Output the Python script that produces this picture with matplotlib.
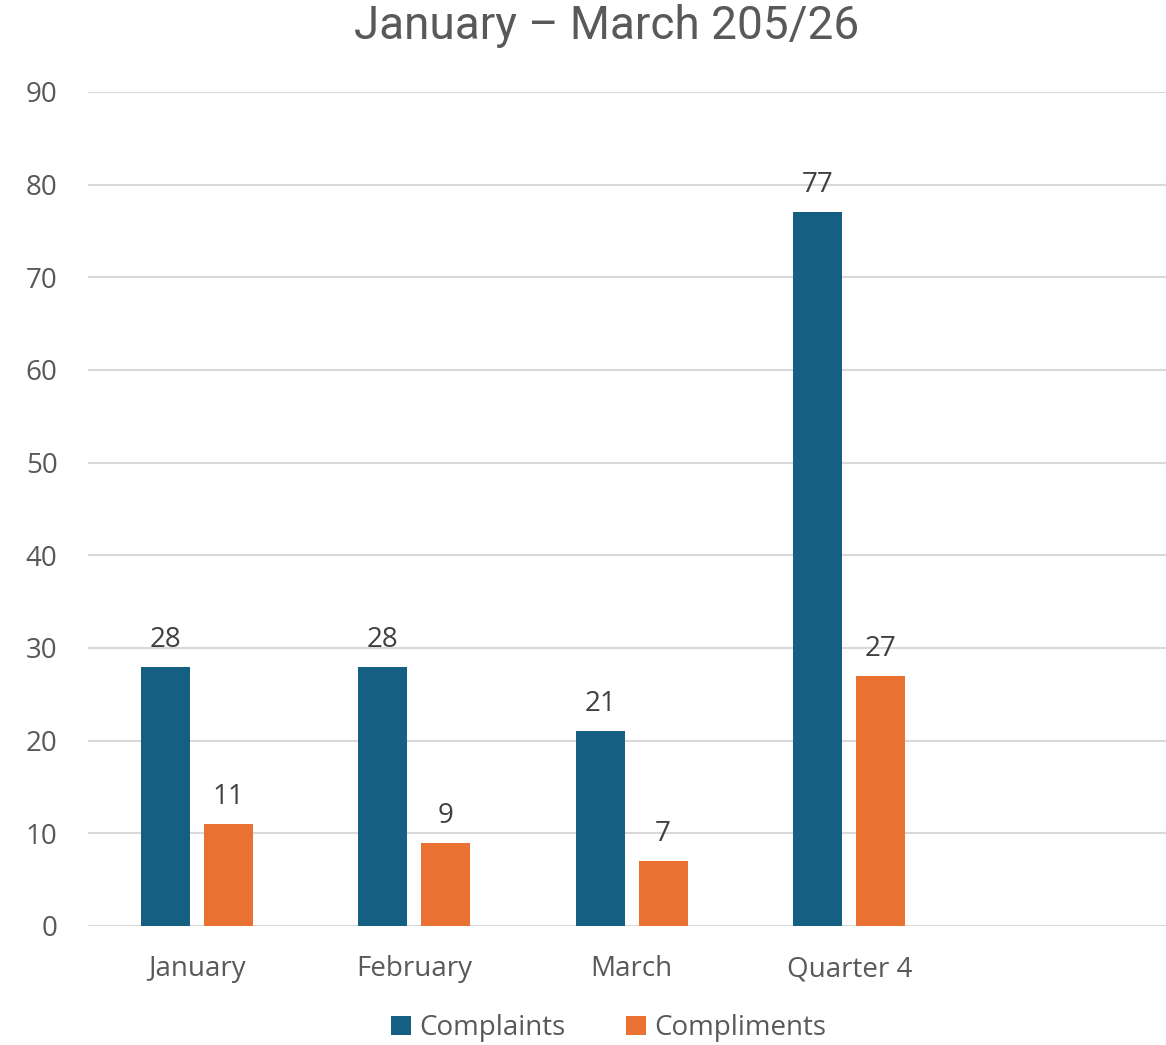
import matplotlib
matplotlib.use("Agg")
import matplotlib.pyplot as plt
import numpy as np

categories = ["January", "February", "March", "Quarter 4", ""]
complaints = [28, 28, 21, 77, None]
compliments = [11, 9, 7, 27, None]
y_ticks = [0, 10, 20, 30, 40, 50, 60, 70, 80, 90]
title = "January \u2013 March 205/26"

blue = "#156082"
orange = "#E97132"
axis_text = "#595959"
label_text = "#404040"
grid_col = "#D9D9D9"

body_font = ["Open Sans", "DejaVu Sans"]
title_font = ["Roboto", "DejaVu Sans"]
fs = 20

fig = plt.figure(figsize=(11.66, 10.45), dpi=100)
ax = fig.add_axes([88 / 1166, (1045 - 926) / 1045, 1078 / 1166, (926 - 92) / 1045])

x = np.arange(len(categories))
width = 0.225
offset = 0.144

for vals, sign, col, name in [(complaints, -1, blue, "Complaints"),
                              (compliments, 1, orange, "Compliments")]:
    xs = [xi + sign * offset for xi, v in zip(x, vals) if v is not None]
    vs = [v for v in vals if v is not None]
    bars = ax.bar(xs, vs, width=width, color=col, label=name, zorder=3)
    for b, v in zip(bars, vs):
        ax.text(b.get_x() + b.get_width() / 2, v + 1.4, f"{v}", ha="center", va="bottom",
                fontsize=fs, color=label_text, family=body_font)

ax.set_xlim(-0.5, -0.5 + 1078 / 217.5)
ax.set_ylim(0, 90)
ax.set_yticks(y_ticks)
ax.set_yticklabels([str(t) for t in y_ticks], family=body_font, fontsize=fs, color=axis_text)
ax.set_xticks(x)
ax.set_xticklabels(categories, family=body_font, fontsize=fs, color=axis_text)
ax.tick_params(axis="both", length=0)
ax.tick_params(axis="y", pad=22)
ax.tick_params(axis="x", pad=21)

ax.grid(axis="y", color=grid_col, linewidth=1.5, zorder=0)
for s in ax.spines.values():
    s.set_visible(False)

fig.text(607 / 1166, 1 - 26 / 1045, title, ha="center", va="center", fontsize=33,
         color=axis_text, family=title_font)

leg = fig.legend(loc="center", bbox_to_anchor=(0.522, 1 - 1028 / 1045), ncol=2, frameon=False,
                 prop={"family": body_font, "size": fs}, handlelength=0.7, handleheight=0.7,
                 handletextpad=0.3, columnspacing=2.2)
for t in leg.get_texts():
    t.set_color(axis_text)

fig.savefig("out.png", dpi=100, facecolor="white")
